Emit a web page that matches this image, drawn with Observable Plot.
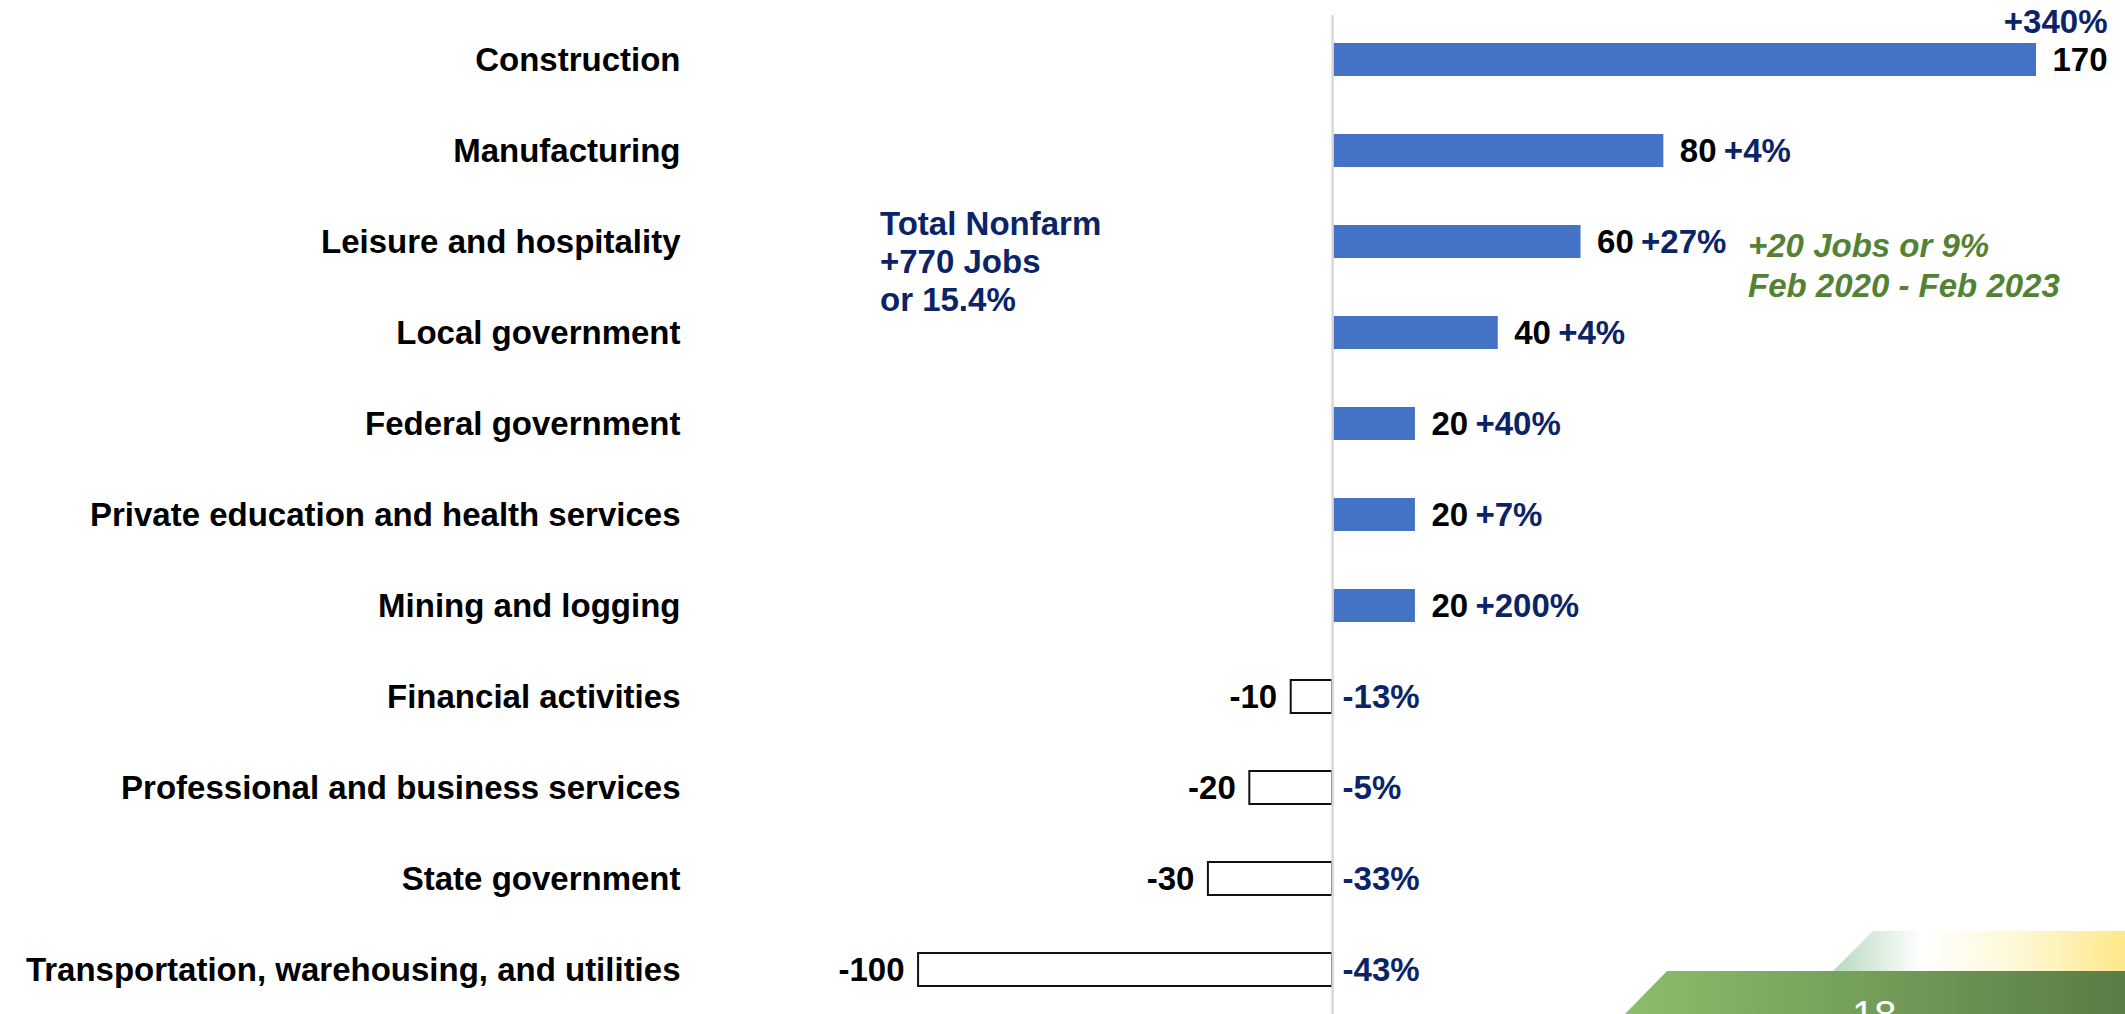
<!DOCTYPE html>
<html><head><meta charset="utf-8">
<script src="https://cdn.jsdelivr.net/npm/d3@7"></script>
<script src="https://cdn.jsdelivr.net/npm/@observablehq/plot@0.6"></script>
<style>
body{margin:0;background:#fff;font-family:"Liberation Sans",Arial,sans-serif;}
#wrap{position:relative;width:2125px;height:1014px;overflow:hidden;background:#fff;}
#wrap svg.chart{position:absolute;left:0;top:0;}
.note{position:absolute;font-size:33px;font-weight:bold;white-space:nowrap;}
#total{left:880px;top:205px;line-height:38px;color:#0b2466;}
#green{left:1748px;top:226px;line-height:40px;color:#548235;font-style:italic;}
#deco{position:absolute;left:0;top:0;}
</style></head><body><div id="wrap"></div>
<script>
const categories = [
  "Construction",
  "Manufacturing",
  "Leisure and hospitality",
  "Local government",
  "Federal government",
  "Private education and health services",
  "Mining and logging",
  "Financial activities",
  "Professional and business services",
  "State government",
  "Transportation, warehousing, and utilities"
];
const jobChange = [170, 80, 60, 40, 20, 20, 20, -10, -20, -30, -100];
const pctChange = ["+340%", "+4%", "+27%", "+4%", "+40%", "+7%", "+200%", "-13%", "-5%", "-33%", "-43%"];
const totalNote = ["Total Nonfarm", "+770 Jobs", "or 15.4%"];
const greenNote = ["+20 Jobs or 9%", "Feb 2020 - Feb 2023"];
const slideNumber = "18";

const data = categories.map((c, i) => ({category: c, value: jobChange[i], pct: pctChange[i]}));
const pos = data.filter(d => d.value > 0);
const neg = data.filter(d => d.value < 0);
const posSmall = pos.filter(d => d.value < 100);
const posBig = pos.filter(d => d.value >= 100);

const navy = "#0b2466";

const chart = Plot.plot({
  width: 2125, height: 1014,
  marginTop: 15, marginBottom: 0, marginLeft: 680, marginRight: 89,
  style: {fontFamily: '"Liberation Sans", Arial, sans-serif', fontSize: "33px", fontWeight: "bold", color: "#000", background: "transparent"},
  x: {domain: [-157.5, 170], axis: null},
  y: {domain: categories, paddingInner: 0.638, paddingOuter: 0.296, label: null, axis: null},
  marks: [
    Plot.axisY({tickSize: 0, tickPadding: 0, fontSize: 33, fontWeight: "bold", label: null, fill: "#000"}),
    Plot.barX(pos, {x: "value", y: "category", fill: "#4472C4"}),
    Plot.barX(neg, {x: "value", y: "category", fill: "white", stroke: "#111", strokeWidth: 2}),
    Plot.ruleX([0], {stroke: "#d9d9d9", strokeWidth: 2.5}),
    Plot.text(pos, {x: "value", y: "category", text: d => String(d.value), textAnchor: "start", dx: 16, fill: "#000", fontSize: 33, fontWeight: "bold"}),
    Plot.text(neg, {x: "value", y: "category", text: d => String(d.value), textAnchor: "end", dx: -14, fill: "#000", fontSize: 33, fontWeight: "bold"}),
    Plot.text(posSmall, {x: "value", y: "category", text: "pct", textAnchor: "start", dx: 60, fill: navy, fontSize: 33, fontWeight: "bold"}),
    Plot.text(posBig, {x: "value", y: "category", text: "pct", textAnchor: "end", dx: 71, dy: -38, fill: navy, fontSize: 33, fontWeight: "bold"}),
    Plot.text(neg, {x: () => 0, y: "category", text: "pct", textAnchor: "start", dx: 10, fill: navy, fontSize: 33, fontWeight: "bold"})
  ]
});
chart.classList.add("chart");
const wrap = document.getElementById("wrap");

// slide decoration (bottom right)
const ns = "http://www.w3.org/2000/svg";
const deco = document.createElementNS(ns, "svg");
deco.setAttribute("id", "deco");
deco.setAttribute("width", 2125);
deco.setAttribute("height", 1014);
deco.innerHTML = `
<defs>
 <linearGradient id="gLow" x1="0" x2="1" y1="0" y2="0">
  <stop offset="0" stop-color="#8cbd6c"/>
  <stop offset="1" stop-color="#5a7c45"/>
 </linearGradient>
 <linearGradient id="gUp" x1="0" x2="1" y1="0" y2="0">
  <stop offset="0" stop-color="#b5d9bd"/>
  <stop offset="0.3" stop-color="#ffffff"/>
  <stop offset="0.65" stop-color="#fdf8d3"/>
  <stop offset="1" stop-color="#ffe78a"/>
 </linearGradient>
</defs>
<polygon points="1833,971 1873,931 2125,931 2125,971" fill="url(#gUp)"/>
<polygon points="1625,1014 1667,971 2125,971 2125,1014" fill="url(#gLow)"/>
<text x="1852" y="1029" fill="#fff" font-size="40" font-family="Liberation Sans, Arial, sans-serif">${slideNumber}</text>`;
wrap.appendChild(deco);
wrap.appendChild(chart);

const t = document.createElement("div");
t.className = "note"; t.id = "total";
t.innerHTML = totalNote.join("<br>");
wrap.appendChild(t);
const g = document.createElement("div");
g.className = "note"; g.id = "green";
g.innerHTML = greenNote.join("<br>");
wrap.appendChild(g);
</script>
</body></html>
